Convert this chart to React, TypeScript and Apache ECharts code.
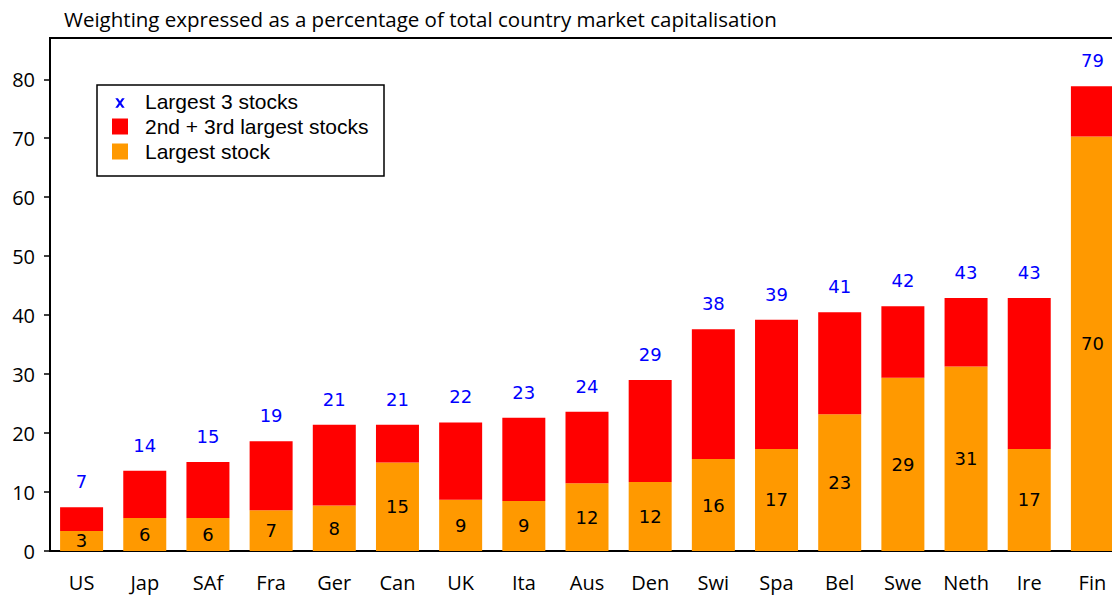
import React, { useEffect, useRef } from "react";
import * as echarts from "echarts";

const categories = ["US", "Jap", "SAf", "Fra", "Ger", "Can", "UK", "Ita", "Aus", "Den", "Swi", "Spa", "Bel", "Swe", "Neth", "Ire", "Fin"];
const largestStock = [3.4, 5.6, 5.6, 6.9, 7.7, 15.0, 8.7, 8.5, 11.5, 11.7, 15.6, 17.3, 23.2, 29.4, 31.3, 17.3, 70.3];
const largest3 = [7.4, 13.6, 15.1, 18.6, 21.4, 21.4, 21.8, 22.6, 23.6, 29.0, 37.6, 39.2, 40.5, 41.5, 42.9, 42.9, 78.8];
const secondThird = largest3.map((t, i) => +(t - largestStock[i]).toFixed(1));
const yTicks = [0, 10, 20, 30, 40, 50, 60, 70, 80];

const TITLE = "Weighting expressed as a percentage of total country market capitalisation";
const FONT = "Open Sans";
const LEGEND_FONT = "Liberation Sans";
const XPATH = "path://M-3.5,-5L-3.5,-5ZM13.5,12L13.5,12ZM0,0L2.8,0L5,3.3L7.2,0L10,0L6.4,5.1L10,10.2L7.2,10.2L5,6.9L2.8,10.2L0,10.2L3.6,5.1Z";

export default function App() {
  const ref = useRef<HTMLDivElement>(null);
  useEffect(() => {
    const chart = echarts.init(ref.current!, null, { renderer: "svg" });
    chart.setOption({
      animation: false,
      backgroundColor: "#ffffff",
      title: {
        text: TITLE,
        left: 64,
        top: 8,
        padding: 0,
        textStyle: { fontFamily: FONT, fontSize: 20.5, fontWeight: "normal", color: "#000" },
      },
      grid: { left: 50, right: 6, top: 38, bottom: 44, show: true, borderColor: "#000", borderWidth: 2, backgroundColor: "transparent" },
      legend: {
        orient: "vertical",
        left: 97,
        top: 85,
        backgroundColor: "#fff",
        borderColor: "#000",
        borderWidth: 1.5,
        padding: [6, 10, 14, 15],
        itemWidth: 16,
        itemHeight: 16,
        itemGap: 4,
        selectedMode: false,
        textStyle: { fontFamily: LEGEND_FONT, fontSize: 21, color: "#000", padding: [0, 0, 0, 12], width: 229, lineHeight: 21 },
        data: [
          { name: "Largest 3 stocks", icon: XPATH, itemStyle: { color: "#0000ff", opacity: 1 } },
          { name: "2nd + 3rd largest stocks", icon: "rect" },
          { name: "Largest stock", icon: "rect" },
        ],
      },
      xAxis: {
        type: "category",
        data: categories,
        axisLine: { lineStyle: { color: "#000", width: 2 } },
        axisTick: { show: false },
        axisLabel: { fontFamily: FONT, fontSize: 20, color: "#000", margin: 21 },
      },
      yAxis: {
        type: "value",
        min: 0,
        max: 87,
        interval: 10,
        splitLine: { show: false },
        axisLine: { show: true, lineStyle: { color: "#000", width: 2 } },
        axisTick: { show: true, length: 6, lineStyle: { color: "#000", width: 1.5 } },
        axisLabel: {
          fontFamily: FONT,
          fontSize: 20,
          color: "#000",
          margin: 15,
          showMaxLabel: false,
          formatter: (v: number) => (yTicks.includes(v) ? String(v) : ""),
        },
      },
      series: [
        {
          name: "Largest stock",
          type: "bar",
          stack: "s",
          barWidth: 43,
          data: largestStock,
          itemStyle: { color: "#ff9900" },
          label: {
            show: true,
            position: "inside",
            formatter: (p: any) => String(Math.round(p.value)),
            fontFamily: "DejaVu Sans",
            fontSize: 18,
            color: "#000",
          },
        },
        {
          name: "2nd + 3rd largest stocks",
          type: "bar",
          stack: "s",
          barWidth: 43,
          data: secondThird,
          itemStyle: { color: "#ff0000" },
        },
        {
          name: "Largest 3 stocks",
          type: "line",
          data: largest3,
          symbol: "circle",
          symbolSize: 1,
          showSymbol: true,
          lineStyle: { opacity: 0 },
          itemStyle: { color: "rgba(0,0,255,0)" },
          label: {
            show: true,
            position: "top",
            distance: 16,
            formatter: (p: any) => String(Math.round(p.value)),
            fontFamily: "DejaVu Sans",
            fontSize: 18,
            color: "#0000ff",
          },
          z: 5,
        },
      ],
    });
    return () => chart.dispose();
  }, []);
  return (
    <div style={{ position: "absolute", left: 0, top: 0, width: 1112, height: 595, overflow: "hidden" }}>
      <div ref={ref} style={{ width: 1130, height: 595 }} />
    </div>
  );
}
